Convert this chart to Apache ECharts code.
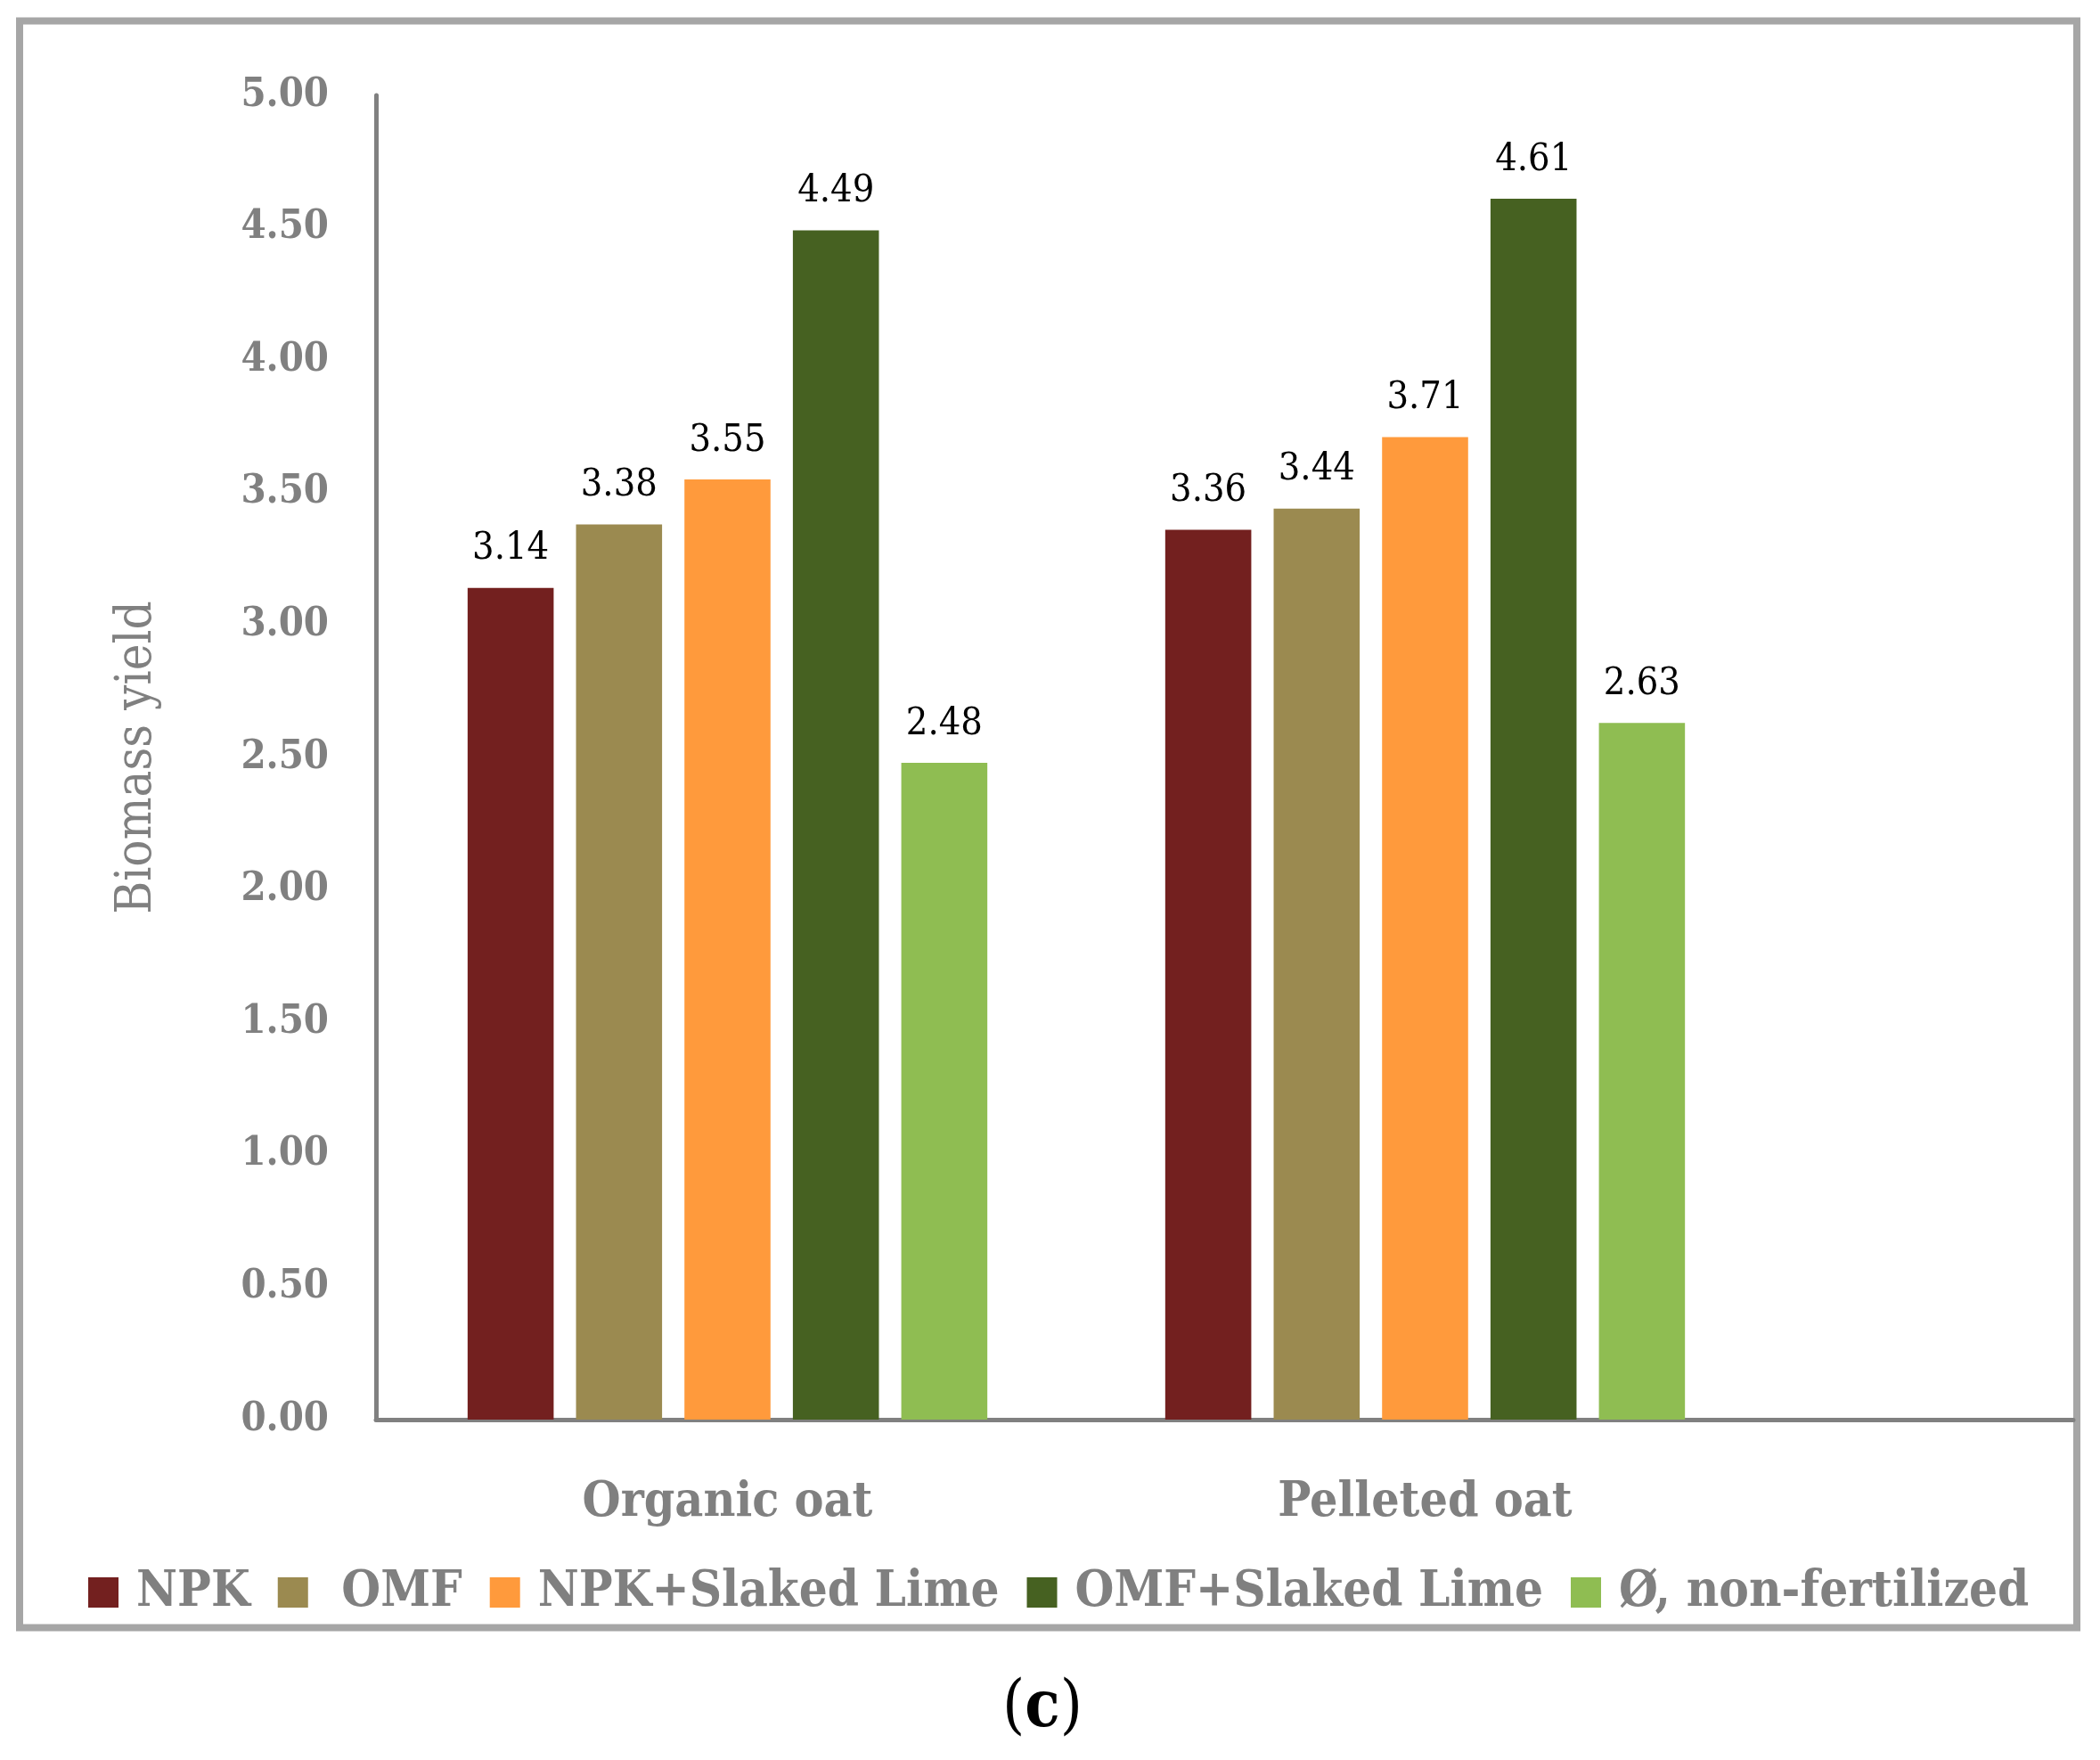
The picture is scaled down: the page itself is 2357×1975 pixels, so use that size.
<!DOCTYPE html>
<html>
<head>
<meta charset="utf-8">
<script src="https://cdn.jsdelivr.net/npm/echarts@6/dist/echarts.min.js"></script>
<style>
html,body{margin:0;padding:0;background:#fff;}
#chart{width:2357px;height:1975px;}
</style>
</head>
<body>
<div id="chart"></div>
<script>
const categories = ['Organic oat', 'Pelleted oat'];
const seriesNames = ['NPK', 'OMF', 'NPK+Slaked Lime', 'OMF+Slaked Lime', 'Ø, non-fertilized'];
const npk = [3.14, 3.36];
const omf = [3.38, 3.44];
const npkLime = [3.55, 3.71];
const omfLime = [4.49, 4.61];
const nonFert = [2.48, 2.63];
const colors = ['#73201F', '#9B8A50', '#FF9A3C', '#466121', '#8FBD52'];
const yTicksMax = 5;
const yInterval = 0.5;

const FONT = "'DejaVu Serif Condensed', 'DejaVu Serif', serif";
const GRAY = '#808080';
const values = [npk, omf, npkLime, omfLime, nonFert];

const chart = echarts.init(document.getElementById('chart'), null, {renderer: 'canvas'});

const series = seriesNames.map((name, i) => ({
  name: name,
  type: 'bar',
  xAxisIndex: 0,
  yAxisIndex: 0,
  data: values[i],
  itemStyle: {color: colors[i]},
  barGap: '26%',
  barCategoryGap: '25.5%',
  label: {
    show: true,
    position: 'top',
    distance: 22,
    color: '#000',
    fontFamily: FONT,
    fontSize: 43,
    formatter: p => p.value.toFixed(2)
  }
}));

chart.setOption({
  animation: false,
  backgroundColor: '#fff',
  grid: [
    {left: 425, top: 107, width: 1566, height: 1486},
    {left: 422, top: 107, width: 1905, height: 1486}
  ],
  xAxis: [
    {
      type: 'category',
      gridIndex: 0,
      data: categories,
      axisLine: {show: false},
      axisTick: {show: false},
      axisLabel: {
        margin: 66,
        color: GRAY,
        fontFamily: FONT,
        fontWeight: 'bold',
        fontSize: 55
      }
    },
    {
      type: 'value',
      gridIndex: 1,
      min: 0,
      max: 1,
      axisLine: {show: true, onZero: false, lineStyle: {color: GRAY, width: 5}},
      axisTick: {show: false},
      axisLabel: {show: false},
      splitLine: {show: false}
    }
  ],
  yAxis: [
    {
      type: 'value',
      gridIndex: 1,
      min: 0,
      max: yTicksMax,
      interval: yInterval,
      name: 'Biomass yield',
      nameLocation: 'middle',
      nameGap: 240,
      nameTextStyle: {color: GRAY, fontFamily: FONT, fontSize: 56},
      axisLine: {show: true, lineStyle: {color: GRAY, width: 5}},
      axisTick: {show: false},
      splitLine: {show: false},
      axisLabel: {
        margin: 53,
        color: GRAY,
        fontFamily: FONT,
        fontWeight: 'bold',
        fontSize: 45,
        formatter: v => v.toFixed(2)
      }
    },
    {
      type: 'value',
      gridIndex: 0,
      show: false,
      min: 0,
      max: yTicksMax,
      interval: yInterval
    }
  ],
  legend: {
    left: 94,
    top: 1754,
    itemWidth: 34,
    itemHeight: 34,
    itemGap: 31,
    icon: 'rect',
    data: seriesNames,
    formatter: n => (n === 'OMF' ? ' OMF' : n),
    textStyle: {
      color: GRAY,
      fontFamily: FONT,
      fontWeight: 'bold',
      fontSize: 56,
      padding: [0, 0, 0, 15]
    }
  },
  graphic: [
    {
      type: 'rect',
      silent: true,
      z: -1,
      shape: {x: 22, y: 23.5, width: 2309, height: 1803},
      style: {fill: 'none', stroke: '#A6A6A6', lineWidth: 8}
    },
    {
      type: 'text',
      silent: true,
      x: 1170,
      y: 1918,
      style: {
        text: '{p|(}{c|c}{p|)}',
        align: 'center',
        verticalAlign: 'middle',
        rich: {
          p: {fontFamily: FONT, fontSize: 72, fill: '#000'},
          c: {fontFamily: FONT, fontSize: 72, fontWeight: 'bold', fill: '#000'}
        }
      }
    }
  ],
  series: series.map(s => Object.assign(s, {yAxisIndex: 1}))
});
</script>
</body>
</html>
